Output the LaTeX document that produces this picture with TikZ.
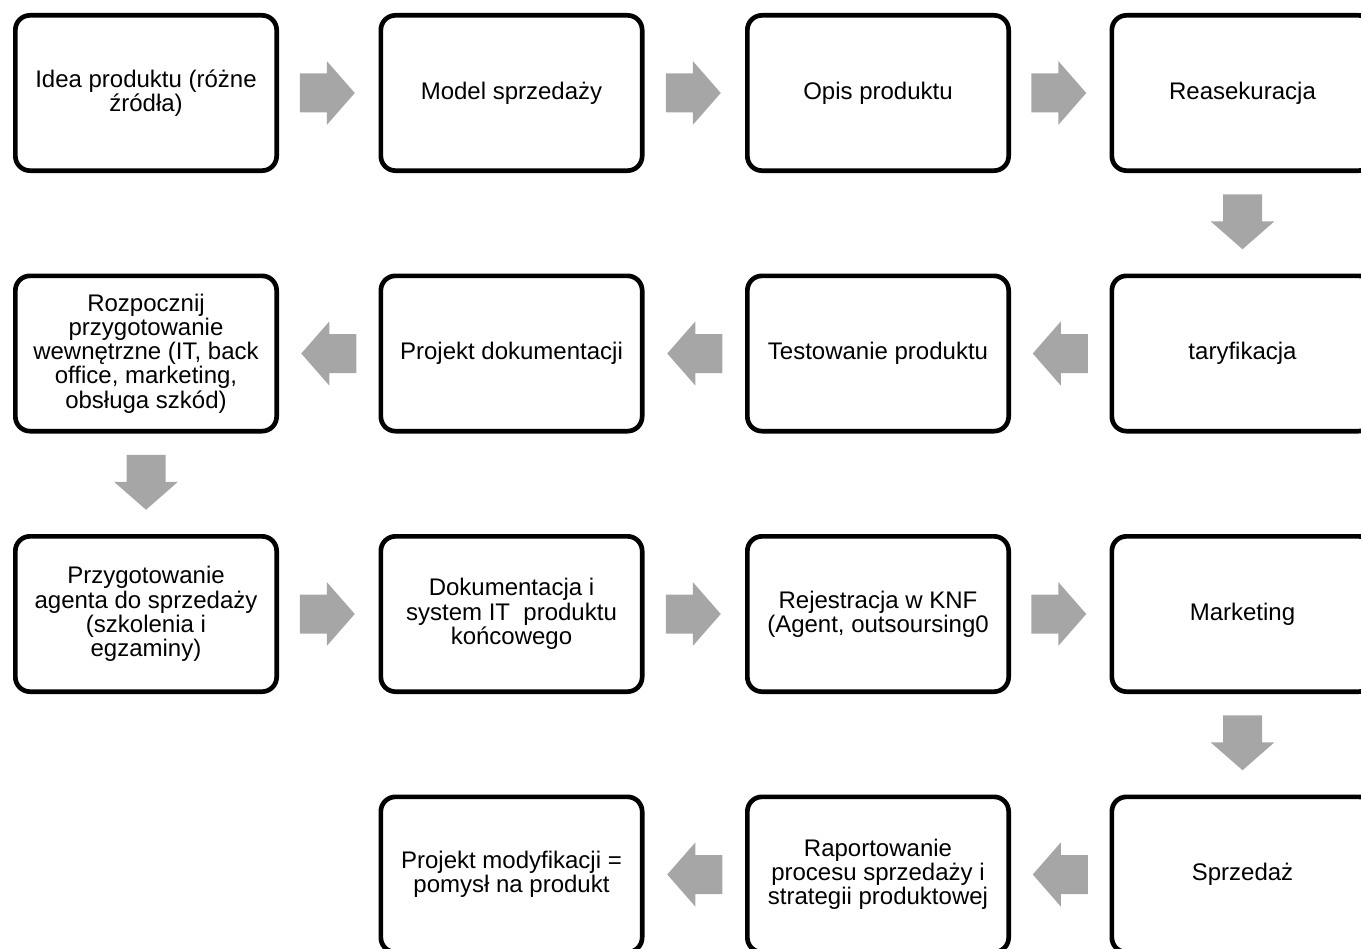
\documentclass[tikz,border=0pt]{standalone}
\usepackage{fontspec}
\setmainfont{Liberation Sans}
\usetikzlibrary{calc}
\definecolor{arrowgray}{RGB}{166,166,166}
\tikzset{
  box/.style={draw=black, line width=3.5pt, rounded corners=11pt, fill=white,
    minimum width=196pt, minimum height=116.5pt, inner sep=0pt, align=center,
    font=\fontsize{18}{18.2}\selectfont},
  rarrow/.pic={\fill[arrowgray] (-27.5,-19.5) -- (-0.5,-19.5) -- (-0.5,-32) -- (27.5,0) -- (-0.5,32) -- (-0.5,19.5) -- (-27.5,19.5) -- cycle;},
  larrow/.pic={\fill[arrowgray] (27.5,-19.5) -- (0.5,-19.5) -- (0.5,-32) -- (-27.5,0) -- (0.5,32) -- (0.5,19.5) -- (27.5,19.5) -- cycle;},
  darrow/.pic={\fill[arrowgray] (-19.5,-27.5) -- (19.5,-27.5) -- (19.5,-0.5) -- (32,-0.5) -- (0,27.5) -- (-32,-0.5) -- (-19.5,-0.5) -- cycle;}
}
\begin{document}
\begin{tikzpicture}[x=0.75pt,y=-0.75pt]
\useasboundingbox (0,0) rectangle (1361,949);
\clip (0,0) rectangle (1361,949);
% row 1
\node[box] (a1) at (146,93) {Idea produktu (różne\\źródła)};
\node[box] (a2) at (511.5,93) {Model sprzedaży};
\node[box] (a3) at (878,93) {Opis produktu};
\node[box] (a4) at (1242.5,93) {Reasekuracja};
% row 2
\node[box] (b1) at (146,353.5) {Rozpocznij\\przygotowanie\\wewnętrzne (IT, back\\office, marketing,\\obsługa szkód)};
\node[box] (b2) at (511.5,353.5) {Projekt dokumentacji};
\node[box] (b3) at (878,353.5) {Testowanie produktu};
\node[box] (b4) at (1242.5,353.5) {taryfikacja};
% row 3
\node[box] (c1) at (146,614) {Przygotowanie\\agenta do sprzedaży\\(szkolenia i\\egzaminy)};
\node[box] (c2) at (511.5,614) {Dokumentacja i\\system IT\ \ produktu\\końcowego};
\node[box] (c3) at (878,614) {Rejestracja w KNF\\(Agent, outsoursing0};
\node[box] (c4) at (1242.5,614) {Marketing};
% row 4
\node[box] (d2) at (511.5,874.5) {Projekt modyfikacji =\\pomysł na produkt};
\node[box] (d3) at (878,874.5) {Raportowanie\\procesu sprzedaży i\\strategii produktowej};
\node[box] (d4) at (1242.5,874.5) {Sprzedaż};
% arrows
\pic at ($(a1.east)!0.5!(a2.west)+(-1.5,0)$) {rarrow};
\pic at ($(a2.east)!0.5!(a3.west)+(-1.5,0)$) {rarrow};
\pic at ($(a3.east)!0.5!(a4.west)+(-1.5,0)$) {rarrow};
\pic at ($(a4.south)!0.5!(b4.north)+(0,-1.5)$) {darrow};
\pic at ($(b4.west)!0.5!(b3.east)$) {larrow};
\pic at ($(b3.west)!0.5!(b2.east)$) {larrow};
\pic at ($(b2.west)!0.5!(b1.east)$) {larrow};
\pic at ($(b1.south)!0.5!(c1.north)+(0,-1.5)$) {darrow};
\pic at ($(c1.east)!0.5!(c2.west)+(-1.5,0)$) {rarrow};
\pic at ($(c2.east)!0.5!(c3.west)+(-1.5,0)$) {rarrow};
\pic at ($(c3.east)!0.5!(c4.west)+(-1.5,0)$) {rarrow};
\pic at ($(c4.south)!0.5!(d4.north)+(0,-1.5)$) {darrow};
\pic at ($(d4.west)!0.5!(d3.east)$) {larrow};
\pic at ($(d3.west)!0.5!(d2.east)$) {larrow};
\end{tikzpicture}
\end{document}
